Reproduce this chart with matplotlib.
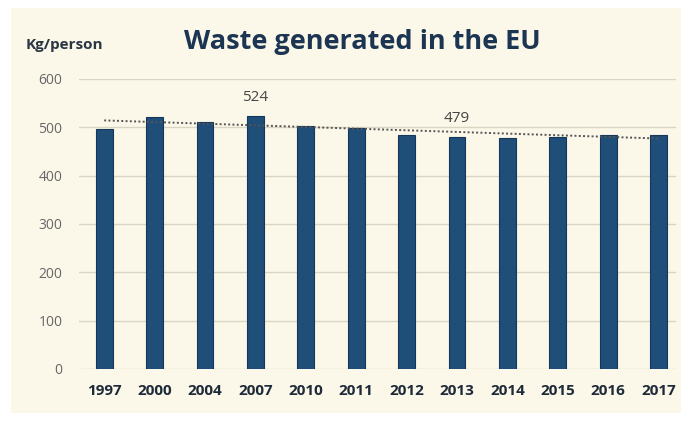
import numpy as np
import matplotlib.pyplot as plt
from matplotlib.patches import Rectangle

# municipal waste per person, EU
years = ['1997', '2000', '2004', '2007', '2010', '2011',
         '2012', '2013', '2014', '2015', '2016', '2017']
kg_per_person = [496, 521, 512, 524, 502, 499, 485, 479, 478, 481, 485, 485]
labelled = ['2007', '2013']
y_ticks = [0, 100, 200, 300, 400, 500, 600]

navy = '#1c3553'
bar_col = '#1f4e79'
cream = '#fbf8e9'

plt.rcParams['font.family'] = ['Open Sans', 'DejaVu Sans']

fig = plt.figure(figsize=(6.81, 4.22), dpi=100, facecolor='white')
fig.patches.append(Rectangle((0.016, 0.022), 0.984, 0.959, transform=fig.transFigure,
                             facecolor=cream, edgecolor='none', zorder=-10))

ax = fig.add_axes([0.116, 0.1256, 0.877, 0.6872])
ax.set_zorder(1)
ax.set_facecolor(cream)

x = np.arange(len(years))
ax.bar(x, kg_per_person, width=0.33, color=bar_col, edgecolor='#15385a',
       linewidth=0.8, zorder=2)

# linear trend over the whole period
k, b = np.polyfit(x, kg_per_person, 1)
ax.plot(x, k * x + b, linestyle=(0, (1, 1.2)), color='#555555', linewidth=1.4, zorder=3)

for i, yr in enumerate(years):
    if yr in labelled:
        ax.annotate(str(kg_per_person[i]), (x[i], kg_per_person[i]),
                    xytext=(0, 8), textcoords='offset points', ha='center',
                    va='bottom', fontsize=11, color='#444444')

ax.set_xlim(-0.5, 11.35)
ax.set_ylim(0, 600)
ax.set_yticks(y_ticks)
ax.set_xticks(x)
ax.set_xticklabels(years, fontweight='bold', color='#1e2a38', fontsize=11)
ax.tick_params(axis='y', length=0, pad=12, labelsize=10, labelcolor='#666666')
ax.tick_params(axis='x', length=0, pad=11)
ax.grid(axis='y', color='#d8d5c4', linewidth=1, zorder=1)
ax.set_axisbelow(True)
for s in ax.spines.values():
    s.set_visible(False)

fig.text(0.532, 0.9, 'Waste generated in the EU', ha='center', va='center',
         fontsize=19.5, fontweight='bold', color=navy)
fig.text(0.037, 0.893, 'Kg/person', ha='left', va='center',
         fontsize=11, fontweight='bold', color='#2b3645')

fig.savefig('out.png', dpi=100, facecolor='white')
